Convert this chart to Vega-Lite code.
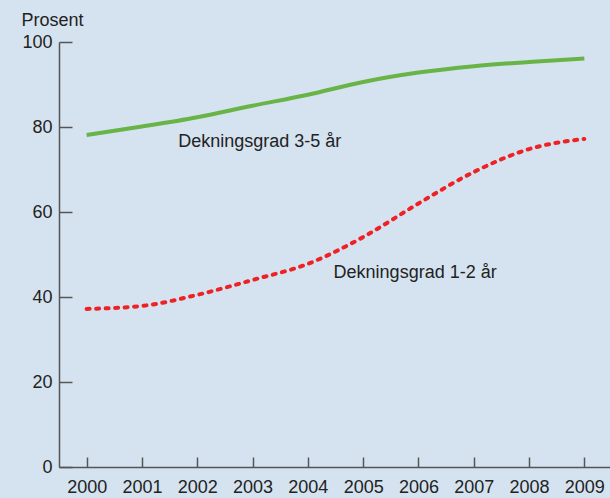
{
  "$schema": "https://vega.github.io/schema/vega-lite/v6.json",
  "width": 553,
  "height": 425,
  "padding": {"left": 59, "top": 42, "right": 0, "bottom": 31},
  "autosize": "none",
  "background": "#d5e3f0",
  "config": {
    "view": {"stroke": null},
    "font": "Liberation Sans",
    "axis": {"grid": false, "domainColor": "#555555", "tickColor": "#555555", "domainWidth": 1.5, "tickWidth": 1.5, "labelColor": "#222222", "labelFontSize": 18, "labelFont": "Liberation Sans"}
  },
  "datasets": {
    "lines": [
      {"year": 2000, "value": 78.1, "series": "3-5"},
      {"year": 2001, "value": 80.1, "series": "3-5"},
      {"year": 2002, "value": 82.3, "series": "3-5"},
      {"year": 2003, "value": 85.0, "series": "3-5"},
      {"year": 2004, "value": 87.6, "series": "3-5"},
      {"year": 2005, "value": 90.6, "series": "3-5"},
      {"year": 2006, "value": 92.8, "series": "3-5"},
      {"year": 2007, "value": 94.3, "series": "3-5"},
      {"year": 2008, "value": 95.3, "series": "3-5"},
      {"year": 2009, "value": 96.1, "series": "3-5"},
      {"year": 2000, "value": 37.2, "series": "1-2"},
      {"year": 2001, "value": 37.9, "series": "1-2"},
      {"year": 2002, "value": 40.5, "series": "1-2"},
      {"year": 2003, "value": 44.0, "series": "1-2"},
      {"year": 2004, "value": 47.8, "series": "1-2"},
      {"year": 2005, "value": 54.1, "series": "1-2"},
      {"year": 2006, "value": 62.0, "series": "1-2"},
      {"year": 2007, "value": 69.4, "series": "1-2"},
      {"year": 2008, "value": 74.8, "series": "1-2"},
      {"year": 2009, "value": 77.2, "series": "1-2"}
    ],
    "labels": [
      {"year": 2003.13, "value": 76.5, "text": "Dekningsgrad 3-5 år"},
      {"year": 2005.94, "value": 45.6, "text": "Dekningsgrad 1-2 år"}
    ]
  },
  "encoding": {
    "x": {"field": "year", "type": "quantitative",
      "scale": {"domain": [1999.5, 2009.5], "nice": false, "zero": false},
      "axis": {"values": [2000, 2001, 2002, 2003, 2004, 2005, 2006, 2007, 2008, 2009], "format": "d", "title": null, "tickSize": -10, "labelPadding": 21, "labelFlush": false, "labelFontSize": 18, "labelColor": "#222222"}},
    "y": {"field": "value", "type": "quantitative",
      "scale": {"domain": [0, 100], "nice": false},
      "axis": {"values": [0, 20, 40, 60, 80, 100], "tickSize": -13, "labelPadding": 20, "labelFontSize": 18, "labelColor": "#222222", "title": "Prosent", "titleAngle": 0, "titleAlign": "left", "titleBaseline": "alphabetic", "titleX": -38, "titleY": -17, "titleFontSize": 18, "titleFontWeight": "normal", "titleColor": "#222222", "titleFont": "Liberation Sans"}}
  },
  "layer": [
    {
      "data": {"name": "lines"},
      "transform": [{"filter": "datum.series === '3-5'"}],
      "mark": {"type": "line", "interpolate": "monotone", "color": "#68b446", "strokeWidth": 4},
      "encoding": {}
    },
    {
      "data": {"name": "lines"},
      "transform": [{"filter": "datum.series === '1-2'"}],
      "mark": {"type": "line", "interpolate": "monotone", "color": "#ee2224", "strokeWidth": 4, "strokeDash": [3, 6.5], "strokeCap": "round"},
      "encoding": {}
    },
    {
      "data": {"name": "labels"},
      "mark": {"type": "text", "fontSize": 18, "color": "#222222", "font": "Liberation Sans"},
      "encoding": {"text": {"field": "text"}}
    }
  ]
}
